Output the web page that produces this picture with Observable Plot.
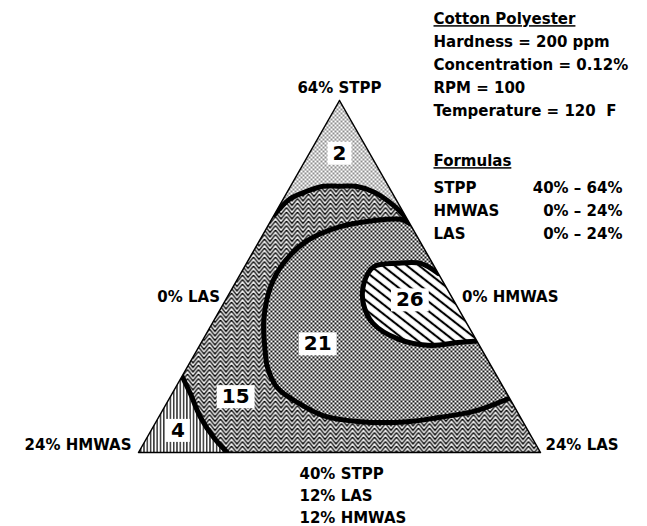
<!DOCTYPE html>
<html><head><meta charset="utf-8">
<script src="https://cdn.jsdelivr.net/npm/d3@7"></script>
<script src="https://cdn.jsdelivr.net/npm/@observablehq/plot@0.6"></script>
<style>body{margin:0;background:#fff}</style>
</head><body><div id="chart"></div>
<script>
// ---- data: compositions as [LAS %, HMWAS %]; STPP = 64 - LAS - HMWAS ----
const contour2_15 = [[0,7.8],[0.4,6.3],[1.05,5.2],[1.95,3.9],[2.95,2.9],[3.9,1.95],[5.2,1.05],[6.8,0.35],[8.1,0]];
const contour15_21 = [[8.4,0],[7.7,0.4],[6.1,2.1],[4.35,4.25],[2.86,6.7],[2.2,8.9],[2.25,10.5],[2.96,12.0],[4.2,13.05],[4.8,13.4],[6.1,13.5],[7.8,12.8],[9.8,11.7],[12.2,9.7],[15.0,6.9],[16.8,4.8],[18.6,2.6],[20.3,0]];
const contour4_15 = [[0,18.8],[1.1,18.9],[2.5,19.1],[4.0,19.0],[5.3,18.7]];
const contour26 = [[11.8,0],[10.4,0.7],[9.0,2.1],[7.7,3.65],[7.7,4.8],[8.35,5.5],[9.6,5.6],[11.6,4.65],[13.8,2.9],[15.3,1.2],[16.4,0]];
const regionLabels = ["2","26","21","15","4"];
const regionLAS = [1.8, 11.0, 7.0, 3.9, 1.6];
const regionHMWAS = [1.8, 2.6, 9.6, 16.3, 20.9];
const cornerNames = ["64% STPP","24% LAS","24% HMWAS"];
const edgeNames = ["0% LAS","0% HMWAS"];
const baseNames = ["40% STPP","12% LAS","12% HMWAS"];
const infoLines = ["Cotton Polyester","Hardness = 200 ppm","Concentration = 0.12%","RPM = 100","Temperature = 120\u00a0\u00a0F"];
const formulaTitle = "Formulas";
const formulaNames = ["STPP","HMWAS","LAS"];
const formulaRanges = ["40% \u2013 64%","0% \u2013 24%","0% \u2013 24%"];

// ---- ternary projection ----
const SQ = Math.sqrt(3)/2;
const tx = (l,h) => l/24 + (24-l-h)/48;
const ty = (l,h) => (24-l-h)/24*SQ;
const toXY = pts => pts.map(([l,h]) => ({x: tx(l,h), y: ty(l,h)}));
const apex=[0,0], right=[24,0], left=[0,24];
const tri = toXY([apex,right,left,apex]);
const xy = {x:"x", y:"y"};
const cr = {curve:"catmull-rom"};

const clipIdx = [], underlineIdx = [];
const marks = [];
const add = (m, tag) => { if (tag==="clip") clipIdx.push(marks.length); if (tag==="ul") underlineIdx.push(marks.length); marks.push(m); return marks.length-1; };

add(Plot.line(tri, {...xy, fill:"url(#pat-dots)", stroke:"none"}), "clip");
add(Plot.line(toXY([...contour2_15, right, left]), {...xy, ...cr, fill:"url(#pat-zig)", stroke:"none"}), "clip");
add(Plot.line(toXY([...contour4_15, left]), {...xy, ...cr, fill:"url(#pat-vert)", stroke:"none"}), "clip");
add(Plot.line(toXY(contour15_21), {...xy, ...cr, fill:"url(#pat-check)", stroke:"none"}), "clip");
add(Plot.line(toXY(contour26), {...xy, ...cr, fill:"url(#pat-diag)", stroke:"none"}), "clip");
[contour2_15, contour15_21, contour4_15, contour26].forEach(c =>
  add(Plot.line(toXY(c), {...xy, ...cr, stroke:"black", strokeWidth:5}), "clip"));
const triIdx = add(Plot.line(tri, {...xy, stroke:"black", strokeWidth:1.5}));
const labIdx = add(Plot.text(regionLabels, {x:(d,i)=>tx(regionLAS[i],regionHMWAS[i]), y:(d,i)=>ty(regionLAS[i],regionHMWAS[i]), text:d=>d, fontSize:20}));
add(Plot.text([cornerNames[0]], {x:[tx(...apex)], y:[ty(...apex)], text:d=>d, dy:-12}));
add(Plot.text([cornerNames[1]], {x:[tx(...right)], y:[ty(...right)], text:d=>d, dx:5, dy:-7, textAnchor:"start"}));
add(Plot.text([cornerNames[2]], {x:[tx(...left)], y:[ty(...left)], text:d=>d, dx:-7, dy:-7, textAnchor:"end"}));
add(Plot.text([edgeNames[0]], {x:[tx(0,12)], y:[ty(0,12)], text:d=>d, dx:-19, dy:21, textAnchor:"end"}));
add(Plot.text([edgeNames[1]], {x:[tx(12,0)], y:[ty(12,0)], text:d=>d, dx:22, dy:21, textAnchor:"start"}));
add(Plot.text([baseNames.join("\n")], {x:[tx(12,12)], y:[ty(12,12)], text:d=>d, dx:-40, dy:11, textAnchor:"start", lineAnchor:"top", lineHeight:1.47}));
infoLines.forEach((t,i) => add(Plot.text([t], {frameAnchor:"top-left", text:d=>d, dx:433, dy:13+i*23, textAnchor:"start"}), i===0 ? "ul" : null));
add(Plot.text([formulaTitle], {frameAnchor:"top-left", text:d=>d, dx:433, dy:155, textAnchor:"start"}), "ul");
formulaNames.forEach((t,i) => add(Plot.text([t], {frameAnchor:"top-left", text:d=>d, dx:433, dy:182+i*23, textAnchor:"start"})));
formulaRanges.forEach((t,i) => add(Plot.text([t], {frameAnchor:"top-left", text:d=>d, dx:622, dy:182+i*23, textAnchor:"end"})));

const svg = Plot.plot({
  width:647, height:526, margin:0,
  x:{domain:[0,1], range:[138,540], axis:null},
  y:{domain:[0,SQ], range:[452,100], axis:null},
  style:{fontFamily:"'DejaVu Sans', sans-serif", fontWeight:"bold", fontSize:"15px", color:"black", background:"white"},
  marks
});
document.getElementById("chart").appendChild(svg);

const groups = Array.from(svg.children).filter(n => n.tagName.toLowerCase() === "g");
// patterns + clip
const defs = d3.select(svg).insert("defs", ":first-child");
defs.html(`
<pattern id="pat-dots" width="4" height="4" patternUnits="userSpaceOnUse">
 <rect width="4" height="4" fill="white"/><circle cx="1" cy="1" r="0.8" fill="black"/><circle cx="3" cy="3" r="0.8" fill="black"/>
</pattern>
<pattern id="pat-check" width="4" height="4" patternUnits="userSpaceOnUse">
 <rect width="4" height="4" fill="white"/><rect x="0" y="0" width="1.9" height="1.9" fill="black"/><rect x="2" y="2" width="1.9" height="1.9" fill="black"/>
</pattern>
<pattern id="pat-zig" width="11" height="4.5" patternUnits="userSpaceOnUse">
 <rect width="11" height="4.5" fill="white"/>
 <path d="M0,-9 L5.5,-2 L11,-9 M0,-4.5 L5.5,2.5 L11,-4.5 M0,0 L5.5,7 L11,0 M0,4.5 L5.5,11.5 L11,4.5" stroke="black" stroke-width="1.35" fill="none"/>
</pattern>
<pattern id="pat-vert" width="3.3" height="4" patternUnits="userSpaceOnUse">
 <rect width="3.3" height="4" fill="white"/><line x1="1.6" y1="0" x2="1.6" y2="4" stroke="black" stroke-width="1.2"/>
</pattern>
<pattern id="pat-diag" width="10" height="7.5" patternUnits="userSpaceOnUse" patternTransform="rotate(38)">
 <rect width="10" height="7.5" fill="white"/><line x1="0" y1="3.75" x2="10" y2="3.75" stroke="black" stroke-width="2.1"/>
</pattern>`);
const triG = groups[triIdx];
const triPath = triG.querySelector("path");
defs.append("clipPath").attr("id","tri-clip").append("path").attr("d", triPath.getAttribute("d"));
clipIdx.forEach(i => groups[i] && groups[i].setAttribute("clip-path","url(#tri-clip)"));
underlineIdx.forEach(i => groups[i] && groups[i].querySelectorAll("text").forEach(t => t.setAttribute("text-decoration","underline")));

// white boxes behind region labels
groups[labIdx].querySelectorAll("text").forEach(t => {
  const b = t.getBBox();
  const r = document.createElementNS("http://www.w3.org/2000/svg","rect");
  r.setAttribute("x", b.x-5); r.setAttribute("y", b.y+1); r.setAttribute("width", b.width+10); r.setAttribute("height", b.height-1);
  r.setAttribute("fill","white"); r.setAttribute("stroke","none");
  if (t.getAttribute("transform")) r.setAttribute("transform", t.getAttribute("transform"));
  t.parentNode.insertBefore(r, t);
});
</script></body></html>
